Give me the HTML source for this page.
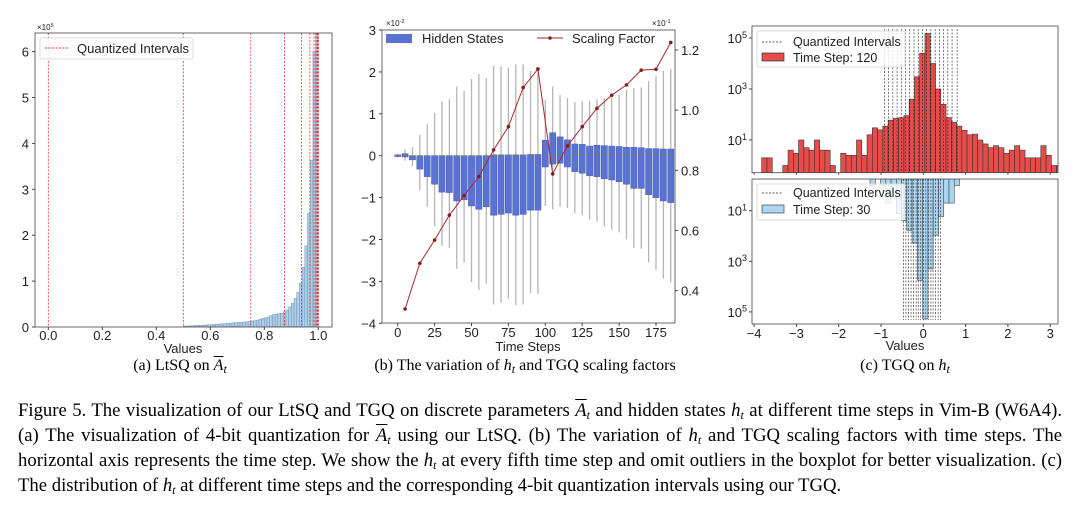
<!DOCTYPE html>
<html><head><meta charset="utf-8">
<style>
body{margin:0;width:1080px;height:508px;background:#fff;overflow:hidden;position:relative;font-family:"Liberation Serif",serif}
svg{position:absolute;left:0;top:0}
.cap{position:absolute;font-size:16px;white-space:nowrap;transform:translateX(-50%)}
.ln{position:absolute;left:18px;width:1044px;font-size:18.7px;text-align:justify;text-align-last:justify;white-space:nowrap;line-height:20px}
i{font-style:italic}
.ov{text-decoration:overline}
sub{font-size:12px;vertical-align:-3px;line-height:0}
</style></head><body>
<svg id="fig" width="1080" height="380" font-family="Liberation Sans, sans-serif"></svg>
<div class="cap" style="left:180px;top:357px">(a) LtSQ on <i class="ov">A</i><sub><i>t</i></sub></div>
<div class="cap" style="left:525px;top:357px">(b) The variation of <i>h</i><sub><i>t</i></sub> and TGQ scaling factors</div>
<div class="cap" style="left:905px;top:357px">(c) TGQ on <i>h</i><sub><i>t</i></sub></div>
<div>
<div class="ln" style="top:401px">Figure 5. The visualization of our LtSQ and TGQ on discrete parameters <i class="ov">A</i><sub><i>t</i></sub> and hidden states <i>h</i><sub><i>t</i></sub> at different time steps in Vim-B (W6A4).</div>
<div class="ln" style="top:426px">(a) The visualization of 4-bit quantization for <i class="ov">A</i><sub><i>t</i></sub> using our LtSQ. (b) The variation of <i>h</i><sub><i>t</i></sub> and TGQ scaling factors with time steps. The</div>
<div class="ln" style="top:451px">horizontal axis represents the time step. We show the <i>h</i><sub><i>t</i></sub> at every fifth time step and omit outliers in the boxplot for better visualization. (c)</div>
<div class="ln" style="top:476px;text-align-last:left">The distribution of <i>h</i><sub><i>t</i></sub> at different time steps and the corresponding 4-bit quantization intervals using our TGQ.</div>
</div>
<script>
// ---- Panel A data ----
const aBinStart = 0.50;
const aBinWidth = 0.01;
const aCounts = [0.02,0.02,0.025,0.03,0.03,0.035,0.04,0.04,0.045,0.05,
0.05,0.055,0.06,0.065,0.07,0.075,0.08,0.085,0.09,0.095,
0.1,0.1,0.11,0.11,0.12,0.13,0.14,0.15,0.17,0.19,
0.2,0.22,0.25,0.27,0.28,0.29,0.3,0.33,0.37,0.44,
0.52,0.62,0.76,0.95,1.3,1.77,2.48,3.63,6.0,6.5];
const aIntervals = [0,0.5,0.75,0.875,0.9375,0.96875,0.984,0.992,0.996,0.998,0.999,1.0];
const aXTicks = [0,0.2,0.4,0.6,0.8,1.0];
const aYTicks = [0,1,2,3,4,5,6];
// ---- Panel B data ----
const bSteps = [0,5,10,15,20,25,30,35,40,45,50,55,60,65,70,75,80,85,90,95,100,105,110,115,120,125,130,135,140,145,150,155,160,165,170,175,180,185];
const bQ1 = [-0.02,-0.03,-0.1,-0.32,-0.5,-0.68,-0.87,-0.88,-1.08,-1.05,-1.2,-1.28,-1.22,-1.42,-1.4,-1.37,-1.42,-1.4,-1.3,-1.3,-0.27,-0.2,-0.18,-0.27,-0.38,-0.42,-0.48,-0.5,-0.55,-0.58,-0.62,-0.68,-0.78,-0.78,-0.93,-1.0,-1.08,-1.12];
const bQ3 = [0.02,0.05,0,0,0,0,0,0,0,0,0,0,0,0.02,0.02,0.02,0.02,0.02,0.03,0.03,0.37,0.55,0.45,0.38,0.28,0.27,0.23,0.25,0.24,0.23,0.22,0.2,0.2,0.19,0.17,0.17,0.16,0.16];
const bWLo = [-0.05,-0.12,-0.25,-0.82,-1.22,-1.68,-2.15,-2.2,-2.7,-2.55,-3.02,-3.2,-3.05,-3.55,-3.5,-3.42,-3.57,-3.55,-3.28,-3.3,-1.2,-1.28,-1.22,-1.25,-1.37,-1.42,-1.52,-1.57,-1.68,-1.77,-1.83,-2.0,-2.2,-2.22,-2.55,-2.73,-2.93,-3.02];
const bWHi = [0.05,0.15,0.2,0.5,0.75,1.02,1.3,1.35,1.65,1.55,1.83,1.95,1.85,2.15,2.13,2.1,2.18,2.18,2.02,2.05,1.33,1.65,1.45,1.38,1.28,1.3,1.3,1.35,1.38,1.48,1.45,1.58,1.62,1.63,1.78,1.9,2.02,2.07];
const sfSteps = [5,15,25,35,45,55,65,75,85,95,105,115,125,135,145,155,165,175,185];
const sfValues = [0.339,0.491,0.568,0.651,0.716,0.779,0.868,0.945,1.075,1.137,0.788,0.881,0.945,1.006,1.05,1.084,1.133,1.136,1.225];
const bXTicks = [0,25,50,75,100,125,150,175];
const bYTicks = [3,2,1,0,-1,-2,-3,-4];
const bRTicks = [0.4,0.6,0.8,1.0,1.2];
// ---- Panel C data ----
const cTopStart = -3.82;
const cBinWidth = 0.1245;
const cTopCounts = [2,2,0,0,1,4,3,10,5,4,10,4,4,1,0,3,2.5,2.5,10,2.5,16,30,25,35,60,70,75,90,400,3000,25000,150000,10000,1000,250,75,50,35,24,16,17,10,7,5,6,5,3,4,6,4,2,2,2,6,2.5,1,1];
const cBotStart = -1.26;
const cBotCounts = [1,0,1,5,1,13,25,60,190,5600,190000,2000,93,17,5,5,1];
const cTopIntervals = [-0.92,-0.82,-0.72,-0.62,-0.52,-0.42,-0.32,-0.22,-0.12,-0.02,0.08,0.18,0.28,0.38,0.48,0.58,0.68,0.8];
const cBotIntervals = [-0.47,-0.41,-0.35,-0.29,-0.23,-0.17,-0.12,-0.06,0,0.06,0.12,0.18,0.23,0.29,0.35,0.41];
const cXTicks = [-4,-3,-2,-1,0,1,2,3];
const cYTicks = [1,3,5];

const svg = document.getElementById('fig');
const NS = 'http://www.w3.org/2000/svg';
function mk(tag, at, parent){const e=document.createElementNS(NS,tag);for(const k in at)e.setAttribute(k,at[k]);(parent||svg).appendChild(e);return e;}
function txt(s,x,y,anchor,size,parent){const t=mk('text',{x:x,y:y,'text-anchor':anchor||'middle','font-size':size||13,fill:'#222'},parent);t.textContent=s;return t;}
function sup(base,exp,x,y,anchor,size,parent){const t=mk('text',{x:x,y:y,'text-anchor':anchor,'font-size':size,fill:'#222'},parent);t.appendChild(document.createTextNode(base));const s=document.createElementNS(NS,'tspan');s.setAttribute('dy',-size*0.4);s.setAttribute('font-size',size*0.7);s.textContent=exp;t.appendChild(s);return t;}

// ===== Panel A =====
{
const g = mk('g',{});


const L=35,R=332,T=33,B=327;
const xs=v=>48.3+v*270, ys=v=>B-v*45.9;
const clip=mk('clipPath',{id:'ca'},g);mk('rect',{x:L,y:T,width:R-L,height:B-T},clip);
const bars=mk('g',{'clip-path':'url(#ca)'},g);
for(let i=0;i<50;i++){const x0=xs(aBinStart+i*aBinWidth),x1=xs(aBinStart+(i+1)*aBinWidth);
 const r=mk('rect',{x:x0,y:ys(aCounts[i]),width:x1-x0,height:B-ys(aCounts[i]),fill:'#a9cdea',stroke:'#7f96ad','stroke-width':0.5},bars);
 
 }
for(const v of aIntervals){const l=mk('line',{x1:xs(v),x2:xs(v),y1:T,y2:B,stroke:'#e8332f','stroke-width':0.8,'stroke-dasharray':'2,1.5'},bars);
 
 }
mk('rect',{x:L,y:T,width:R-L,height:B-T,fill:'none',stroke:'#444','stroke-width':0.8},g);
for(const v of aXTicks){mk('line',{x1:xs(v),x2:xs(v),y1:B,y2:B+3,stroke:'#444'},g);txt(v.toFixed(1),xs(v),B+13,'middle',13,g);}
for(const v of aYTicks){mk('line',{x1:L-3,x2:L,y1:ys(v),y2:ys(v),stroke:'#444'},g);txt(String(v),L-6,ys(v)+5,'end',13,g);}
sup('×10','5',37,30,'start',8,g);
txt('Values',183,353,'middle',13,g);
const lg=mk('g',{},g);
mk('rect',{x:40,y:38,width:153,height:21,rx:2,fill:'#fff','fill-opacity':0.85,stroke:'#ddd'},lg);
mk('line',{x1:45,x2:68,y1:48,y2:48,stroke:'#e8332f','stroke-dasharray':'2,1.5'},lg);
txt('Quantized Intervals',77,53,'start',13,lg);
}

// ===== Panel B =====
{
const g = mk('g',{});


const L=382,R=675,T=30,B=323;
const xs=v=>397.7+v*1.476, ys=v=>155.7-v*41.9, yr=v=>50+(1.2-v)*300.8;
for(let i=0;i<bSteps.length;i++){const cx=xs(bSteps[i]);
 const w=mk('line',{x1:cx,x2:cx,y1:ys(bWHi[i]),y2:ys(bWLo[i]),stroke:'#b5b5b5','stroke-width':1.3},g);
 
 
 const b=mk('rect',{x:cx-3.1,y:ys(bQ3[i]),width:6.2,height:Math.max(0.5,ys(bQ1[i])-ys(bQ3[i])),fill:'#5a72d2',stroke:'#4a5fae','stroke-width':0.5},g);
 
 
 mk('line',{x1:cx-3.1,x2:cx+3.1,y1:ys(0),y2:ys(0),stroke:'#777','stroke-width':0.8},g);}
const pts=sfSteps.map((s,i)=>xs(s)+','+yr(sfValues[i])).join(' ');
const pl=mk('polyline',{points:pts,fill:'none',stroke:'#a52a2a','stroke-width':1},g);


for(let i=0;i<sfSteps.length;i++){const c=mk('circle',{cx:xs(sfSteps[i]),cy:yr(sfValues[i]),r:1.8,fill:'#8b1a1a'},g);
 
 }
mk('rect',{x:L,y:T,width:R-L,height:B-T,fill:'none',stroke:'#444','stroke-width':0.8},g);
for(const v of bXTicks){mk('line',{x1:xs(v),x2:xs(v),y1:B,y2:B+3,stroke:'#444'},g);txt(String(v),xs(v),B+14,'middle',13,g);}
for(const v of bYTicks){mk('line',{x1:L-3,x2:L,y1:ys(v),y2:ys(v),stroke:'#444'},g);txt(v<0?'−'+(-v):String(v),L-6,ys(v)+5,'end',13,g);}
for(const v of bRTicks){mk('line',{x1:R,x2:R+3,y1:yr(v),y2:yr(v),stroke:'#444'},g);txt(v.toFixed(1),R+6,yr(v)+5,'start',13,g);}
sup('×10','-2',386,26,'start',8,g);
sup('×10','-1',652,26,'start',8,g);
txt('Time Steps',528,351,'middle',13,g);
const lg=mk('g',{},g);
mk('rect',{x:386,y:34,width:26,height:9,fill:'#5a72d2'},lg);
txt('Hidden States',422,43,'start',13,lg);
mk('line',{x1:537,x2:563,y1:38,y2:38,stroke:'#a52a2a'},lg);
mk('circle',{cx:550,cy:38,r:1.8,fill:'#8b1a1a'},lg);
txt('Scaling Factor',572,43,'start',13,lg);
}

// ===== Panel C =====
{
const g = mk('g',{});


const L=752,R=1058,T1=26,B1=172.7,T2=179,B2=324;
const xs=v=>923.3+v*42.3;
const yt=c=>140-(Math.log10(c)-1)*25.5;
const yb=c=>210.7+(Math.log10(c)-1)*25.3;
const c1=mk('clipPath',{id:'cc1'},g);mk('rect',{x:L,y:T1,width:R-L,height:B1-T1},c1);
const c2=mk('clipPath',{id:'cc2'},g);mk('rect',{x:L,y:T2,width:R-L,height:B2-T2},c2);
const gt=mk('g',{'clip-path':'url(#cc1)'},g);
for(let i=0;i<cTopCounts.length;i++){if(cTopCounts[i]<=0)continue;
 const x0=xs(cTopStart+i*cBinWidth),x1=xs(cTopStart+(i+1)*cBinWidth),y=yt(cTopCounts[i]);
 const r=mk('rect',{x:x0,y:y,width:x1-x0,height:B1+2-y,fill:'#e84c4a',stroke:'#333','stroke-width':0.6},gt);
 
 }
for(const v of cTopIntervals){const l=mk('line',{x1:xs(v),x2:xs(v),y1:29,y2:B1,stroke:'#222','stroke-width':0.6,'stroke-dasharray':'2,1.5'},gt);
 
 }
const gb=mk('g',{'clip-path':'url(#cc2)'},g);
for(let i=0;i<cBotCounts.length;i++){if(cBotCounts[i]<=0)continue;
 const x0=xs(cBotStart+i*cBinWidth),x1=xs(cBotStart+(i+1)*cBinWidth),y=yb(cBotCounts[i]);
 const r=mk('rect',{x:x0,y:T2-2,width:x1-x0,height:y-T2+2,fill:'#abd6f2',stroke:'#444','stroke-width':0.6},gb);
 
 }
for(const v of cBotIntervals){const l=mk('line',{x1:xs(v),x2:xs(v),y1:T2,y2:320,stroke:'#222','stroke-width':0.6,'stroke-dasharray':'2,1.5'},gb);
 
 }
mk('rect',{x:L,y:T1,width:R-L,height:B1-T1,fill:'none',stroke:'#444','stroke-width':0.8},g);
mk('rect',{x:L,y:T2,width:R-L,height:B2-T2,fill:'none',stroke:'#444','stroke-width':0.8},g);
for(const v of cXTicks){mk('line',{x1:xs(v),x2:xs(v),y1:B2,y2:B2+3,stroke:'#444'},g);txt(v<0?'−'+(-v):String(v),xs(v),B2+14,'middle',13,g);
 mk('line',{x1:xs(v),x2:xs(v),y1:B1,y2:B1+2,stroke:'#444'},g);}
for(const e of cYTicks){const c=Math.pow(10,e);
 mk('line',{x1:L-3,x2:L,y1:yt(c),y2:yt(c),stroke:'#444'},g);sup('10',String(e),L-5,yt(c)+5,'end',13,g);
 mk('line',{x1:L-3,x2:L,y1:yb(c),y2:yb(c),stroke:'#444'},g);sup('10',String(e),L-5,yb(c)+5,'end',13,g);}
txt('Values',905,350,'middle',13,g);
const l1=mk('g',{},g);
mk('rect',{x:757,y:31,width:148,height:36,rx:2,fill:'#fff','fill-opacity':0.8,stroke:'#ddd'},l1);
mk('line',{x1:762,x2:783,y1:42,y2:42,stroke:'#222','stroke-width':0.7,'stroke-dasharray':'2,1.5'},l1);
txt('Quantized Intervals',793,46,'start',12.5,l1);
mk('rect',{x:762,y:53,width:22,height:8,fill:'#e84c4a',stroke:'#333','stroke-width':0.7},l1);
txt('Time Step: 120',793,62,'start',12.5,l1);
const l2=mk('g',{},g);
mk('rect',{x:757,y:184,width:148,height:36,rx:2,fill:'#fff','fill-opacity':0.8,stroke:'#ddd'},l2);
mk('line',{x1:762,x2:783,y1:193,y2:193,stroke:'#222','stroke-width':0.7,'stroke-dasharray':'2,1.5'},l2);
txt('Quantized Intervals',793,197,'start',12.5,l2);
mk('rect',{x:762,y:205,width:22,height:8,fill:'#abd6f2',stroke:'#444','stroke-width':0.7},l2);
txt('Time Step: 30',793,214,'start',12.5,l2);
}
</script>
</body></html>
